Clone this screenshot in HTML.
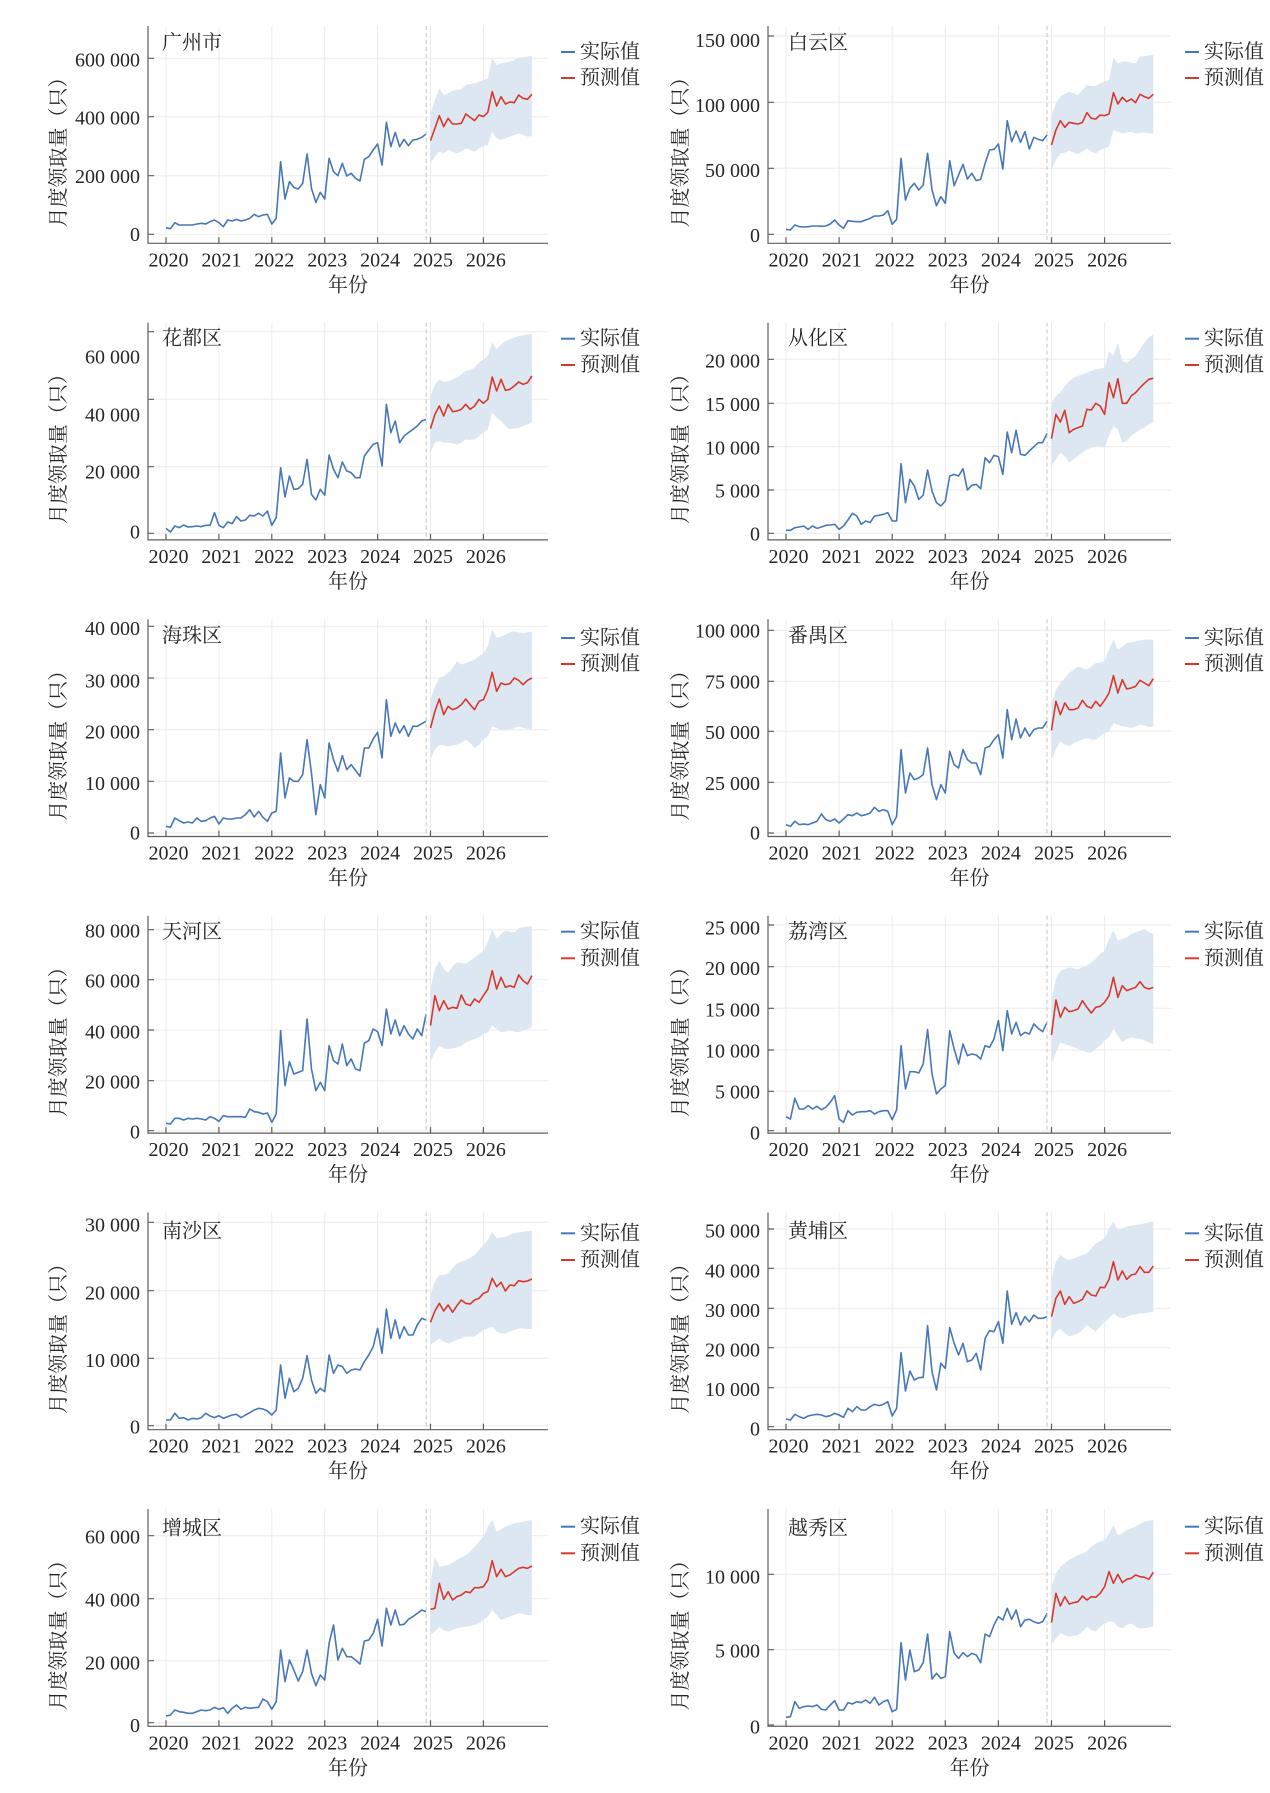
<!DOCTYPE html>
<html>
<head>
<meta charset="utf-8">
<style>
  html,body{margin:0;padding:0;background:#fff;}
  svg{display:block;}
  .ax{stroke:#5e5e5e;stroke-width:1.2;fill:none;}
  .gr{stroke:#ebebeb;stroke-width:1;fill:none;}
  .dash{stroke:#c4c4c4;stroke-width:1;stroke-dasharray:4 3;fill:none;}
  .act{fill:none;stroke:#4677b8;stroke-width:1.6;stroke-linejoin:round;}
  .fc{fill:none;stroke:#d8382c;stroke-width:1.6;stroke-linejoin:round;}
  .band{fill:#dde7f2;stroke:none;}
  text{font-family:"Liberation Serif","Noto Serif CJK SC",serif;font-size:20px;fill:#262626;dominant-baseline:central;}
  .yl{text-anchor:end;}
  .xl{text-anchor:middle;}
  .lg1{stroke:#4677b8;stroke-width:2;}
  .lg2{stroke:#d8382c;stroke-width:2;}
</style>
</head>
<body>
<svg width="1270" height="1793" viewBox="0 0 1270 1793" xmlns="http://www.w3.org/2000/svg">

<!-- ============ GRID LAYER (vertical, per row) ============ -->
<g id="rowgrid">
  <g class="gr">
    <line x1="166" y1="26" x2="166" y2="243.3"/><line x1="218.9" y1="26" x2="218.9" y2="243.3"/><line x1="271.8" y1="26" x2="271.8" y2="243.3"/><line x1="324.7" y1="26" x2="324.7" y2="243.3"/><line x1="377.6" y1="26" x2="377.6" y2="243.3"/><line x1="430.5" y1="26" x2="430.5" y2="243.3"/><line x1="483.4" y1="26" x2="483.4" y2="243.3"/>
    <line x1="786" y1="26" x2="786" y2="243.3"/><line x1="839.1" y1="26" x2="839.1" y2="243.3"/><line x1="892.2" y1="26" x2="892.2" y2="243.3"/><line x1="945.3" y1="26" x2="945.3" y2="243.3"/><line x1="998.4" y1="26" x2="998.4" y2="243.3"/><line x1="1051.5" y1="26" x2="1051.5" y2="243.3"/><line x1="1104.6" y1="26" x2="1104.6" y2="243.3"/>
  </g>
</g>
<use href="#rowgrid" transform="translate(0,296.6)"/>
<use href="#rowgrid" transform="translate(0,593.2)"/>
<use href="#rowgrid" transform="translate(0,889.8)"/>
<use href="#rowgrid" transform="translate(0,1186.4)"/>
<use href="#rowgrid" transform="translate(0,1483)"/>

<!-- horizontal gridlines -->
<g class="gr">
  <!-- P1 -->
  <line x1="148" y1="234.3" x2="548" y2="234.3"/><line x1="148" y1="175.7" x2="548" y2="175.7"/><line x1="148" y1="116.7" x2="548" y2="116.7"/><line x1="148" y1="58.3" x2="548" y2="58.3"/>
  <!-- P2 -->
  <line x1="768" y1="234.3" x2="1171" y2="234.3"/><line x1="768" y1="168.3" x2="1171" y2="168.3"/><line x1="768" y1="102.3" x2="1171" y2="102.3"/><line x1="768" y1="36" x2="1171" y2="36"/>
  <!-- P3 -->
  <line x1="148" y1="533.3" x2="548" y2="533.3"/><line x1="148" y1="466.7" x2="548" y2="466.7"/><line x1="148" y1="399.3" x2="548" y2="399.3"/><line x1="148" y1="331.7" x2="548" y2="331.7"/>
  <!-- P4 -->
  <line x1="768" y1="533.3" x2="1171" y2="533.3"/><line x1="768" y1="490" x2="1171" y2="490"/><line x1="768" y1="446.7" x2="1171" y2="446.7"/><line x1="768" y1="403.3" x2="1171" y2="403.3"/><line x1="768" y1="359.3" x2="1171" y2="359.3"/>
  <!-- P5 -->
  <line x1="148" y1="833" x2="548" y2="833"/><line x1="148" y1="781.3" x2="548" y2="781.3"/><line x1="148" y1="729.7" x2="548" y2="729.7"/><line x1="148" y1="678" x2="548" y2="678"/><line x1="148" y1="626.3" x2="548" y2="626.3"/>
  <!-- P6 -->
  <line x1="768" y1="833" x2="1171" y2="833"/><line x1="768" y1="782.3" x2="1171" y2="782.3"/><line x1="768" y1="731.3" x2="1171" y2="731.3"/><line x1="768" y1="681.3" x2="1171" y2="681.3"/><line x1="768" y1="630.3" x2="1171" y2="630.3"/>
  <!-- P7 -->
  <line x1="148" y1="1130.7" x2="548" y2="1130.7"/><line x1="148" y1="1080.7" x2="548" y2="1080.7"/><line x1="148" y1="1030" x2="548" y2="1030"/><line x1="148" y1="979.7" x2="548" y2="979.7"/><line x1="148" y1="929.7" x2="548" y2="929.7"/>
  <!-- P8 -->
  <line x1="768" y1="1130.7" x2="1171" y2="1130.7"/><line x1="768" y1="1091.3" x2="1171" y2="1091.3"/><line x1="768" y1="1050" x2="1171" y2="1050"/><line x1="768" y1="1008.3" x2="1171" y2="1008.3"/><line x1="768" y1="966.7" x2="1171" y2="966.7"/><line x1="768" y1="925" x2="1171" y2="925"/>
  <!-- P9 -->
  <line x1="148" y1="1425.7" x2="548" y2="1425.7"/><line x1="148" y1="1358.3" x2="548" y2="1358.3"/><line x1="148" y1="1290.7" x2="548" y2="1290.7"/><line x1="148" y1="1222.3" x2="548" y2="1222.3"/>
  <!-- P10 -->
  <line x1="768" y1="1426.7" x2="1171" y2="1426.7"/><line x1="768" y1="1387.7" x2="1171" y2="1387.7"/><line x1="768" y1="1347.7" x2="1171" y2="1347.7"/><line x1="768" y1="1308.3" x2="1171" y2="1308.3"/><line x1="768" y1="1268.3" x2="1171" y2="1268.3"/><line x1="768" y1="1229" x2="1171" y2="1229"/>
  <!-- P11 -->
  <line x1="148" y1="1722.7" x2="548" y2="1722.7"/><line x1="148" y1="1660.7" x2="548" y2="1660.7"/><line x1="148" y1="1598.7" x2="548" y2="1598.7"/><line x1="148" y1="1535.7" x2="548" y2="1535.7"/>
  <!-- P12 -->
  <line x1="768" y1="1725" x2="1171" y2="1725"/><line x1="768" y1="1649.7" x2="1171" y2="1649.7"/><line x1="768" y1="1574.3" x2="1171" y2="1574.3"/>
</g>

<!-- ============ DATA LAYER ============ -->
<!-- P1 广州市 -->
<g transform="translate(166 0) scale(4.4083 0.33333)">
  <polygon class="band" points="60,340 61,300 62,265 63,285 64,280 65,272 66,270 67,268 68,255 69,252 70,250 71,245 72,240 73,235 74,175 75,195 76,190 77,188 78,185 79,180 80,172 81,172 82,170 83,168 83,408 82,410 81,405 80,400 79,405 78,410 77,415 76,420 75,415 74,395 73,435 72,440 71,445 70,455 69,450 68,445 67,455 66,460 65,455 64,450 63,460 62,455 61,470 60,490"/>
  <polyline class="act" vector-effect="non-scaling-stroke" points="0,683 1,686 2,668 3,675 4,675 5,675 6,675 7,672 8,670 9,672 10,665 11,660 12,668 13,680 14,660 15,663 16,658 17,663 18,660 19,655 20,643 21,650 22,645 23,643 24,672 25,655 26,485 27,597 28,545 29,562 30,567 31,550 32,462 33,565 34,607 35,577 36,597 37,475 38,515 39,527 40,490 41,528 42,520 43,535 44,543 45,478 46,470 47,450 48,432 49,495 50,367 51,440 52,397 53,440 54,418 55,437 56,420 57,418 58,412 59,402"/>
  <polyline class="fc" vector-effect="non-scaling-stroke" points="60,422 61,385 62,347 63,380 64,355 65,372 66,372 67,370 68,342 69,352 70,362 71,345 72,350 73,337 74,275 75,318 76,290 77,312 78,306 79,308 80,285 81,295 82,298 83,283"/>
</g>
<!-- P2 白云区 -->
<g transform="translate(786 0) scale(4.425 0.33333)">
  <polygon class="band" points="60,345 61,310 62,290 63,282 64,275 65,280 66,285 67,270 68,255 69,258 70,258 71,250 72,245 73,240 74,172 75,190 76,185 77,185 78,188 79,190 80,170 81,168 82,166 83,165 83,402 82,400 81,398 80,398 79,400 78,395 77,398 76,400 75,395 74,390 73,440 72,445 71,450 70,460 69,455 68,445 67,455 66,462 65,458 64,452 63,458 62,460 61,480 60,510"/>
  <polyline class="act" vector-effect="non-scaling-stroke" points="0,688 1,690 2,675 3,680 4,681 5,680 6,678 7,678 8,679 9,678 10,672 11,660 12,675 13,685 14,662 15,664 16,665 17,665 18,660 19,655 20,648 21,648 22,645 23,632 24,673 25,658 26,475 27,600 28,565 29,550 30,570 31,555 32,460 33,570 34,617 35,590 36,610 37,482 38,557 39,525 40,493 41,537 42,520 43,542 44,538 45,490 46,450 47,448 48,432 49,507 50,362 51,425 52,393 53,427 54,395 55,447 56,412 57,418 58,422 59,405"/>
  <polyline class="fc" vector-effect="non-scaling-stroke" points="60,435 61,390 62,362 63,382 64,367 65,370 66,372 67,367 68,338 69,355 70,357 71,345 72,347 73,342 74,278 75,312 76,292 77,305 78,297 79,308 80,283 81,290 82,295 83,283"/>
</g>
<!-- P3 花都区 -->
<g transform="translate(166 296) scale(4.4083 0.33333)">
  <polygon class="band" points="60,300 61,265 62,250 63,258 64,255 65,250 66,245 67,235 68,225 69,222 70,215 71,200 72,190 73,180 74,140 75,160 76,145 77,135 78,130 79,125 80,120 81,118 82,115 83,112 83,380 82,385 81,390 80,395 79,398 78,400 77,390 76,375 75,365 74,350 73,400 72,410 71,420 70,430 69,432 68,430 67,440 66,445 65,442 64,440 63,440 62,435 61,440 60,470"/>
  <polyline class="act" vector-effect="non-scaling-stroke" points="0,697 1,708 2,690 3,695 4,687 5,693 6,692 7,690 8,692 9,688 10,688 11,650 12,688 13,695 14,678 15,683 16,662 17,675 18,672 19,658 20,660 21,652 22,660 23,645 24,688 25,665 26,515 27,603 28,540 29,580 30,578 31,565 32,490 33,595 34,612 35,580 36,598 37,477 38,520 39,545 40,498 41,525 42,530 43,545 44,545 45,480 46,462 47,445 48,440 49,510 50,325 51,410 52,375 53,440 54,420 55,410 56,400 57,390 58,375 59,370"/>
  <polyline class="fc" vector-effect="non-scaling-stroke" points="60,398 61,355 62,330 63,360 64,325 65,347 66,345 67,340 68,325 69,340 70,330 71,310 72,322 73,310 74,243 75,285 76,250 77,283 78,280 79,270 80,258 81,265 82,260 83,240"/>
</g>
<!-- P4 从化区 -->
<g transform="translate(786 296) scale(4.425 0.33333)">
  <polygon class="band" points="60,320 61,300 62,290 63,270 64,255 65,245 66,240 67,235 68,230 69,225 70,220 71,218 72,215 73,165 74,180 75,140 76,195 77,200 78,190 79,180 80,160 81,140 82,125 83,115 83,380 82,385 81,395 80,400 79,410 78,420 77,435 76,440 75,400 74,390 73,420 72,455 71,450 70,450 69,455 68,460 67,470 66,480 65,490 64,500 63,480 62,470 61,490 60,510"/>
  <polyline class="act" vector-effect="non-scaling-stroke" points="0,703 1,703 2,695 3,693 4,690 5,700 6,690 7,697 8,693 9,688 10,687 11,685 12,700 13,690 14,672 15,652 16,660 17,685 18,675 19,680 20,660 21,658 22,655 23,650 24,675 25,675 26,503 27,620 28,550 29,570 30,610 31,598 32,522 33,585 34,620 35,630 36,615 37,540 38,535 39,540 40,518 41,582 42,568 43,565 44,578 45,485 46,500 47,478 48,482 49,535 50,408 51,470 52,403 53,475 54,478 55,465 56,452 57,440 58,440 59,412"/>
  <polyline class="fc" vector-effect="non-scaling-stroke" points="60,428 61,355 62,378 63,343 64,410 65,400 66,395 67,390 68,340 69,342 70,322 71,330 72,355 73,260 74,305 75,248 76,322 77,322 78,300 79,290 80,275 81,262 82,250 83,247"/>
</g>
<!-- P5 海珠区 -->
<g transform="translate(166 593) scale(4.4083 0.33333)">
  <polygon class="band" points="60,320 61,280 62,255 63,250 64,240 65,225 66,205 67,215 68,210 69,205 70,200 71,190 72,180 73,160 74,110 75,135 76,130 77,125 78,118 79,115 80,118 81,120 82,118 83,115 83,410 82,408 81,405 80,400 79,405 78,410 77,412 76,410 75,405 74,400 73,430 72,440 71,455 70,465 69,450 68,440 67,450 66,455 65,458 64,460 63,458 62,455 61,470 60,500"/>
  <polyline class="act" vector-effect="non-scaling-stroke" points="0,700 1,703 2,675 3,683 4,690 5,687 6,690 7,675 8,685 9,683 10,675 11,670 12,693 13,675 14,678 15,678 16,675 17,675 18,665 19,650 20,672 21,655 22,673 23,685 24,660 25,655 26,480 27,615 28,555 29,565 30,565 31,545 32,440 33,540 34,665 35,575 36,615 37,450 38,500 39,535 40,488 41,530 42,515 43,532 44,550 45,465 46,465 47,438 48,418 49,495 50,320 51,430 52,390 53,420 54,398 55,430 56,400 57,400 58,392 59,385"/>
  <polyline class="fc" vector-effect="non-scaling-stroke" points="60,405 61,355 62,318 63,365 64,340 65,350 66,345 67,335 68,318 69,335 70,350 71,325 72,320 73,290 74,238 75,295 76,270 77,275 78,272 79,255 80,262 81,275 82,262 83,255"/>
</g>
<!-- P6 番禺区 -->
<g transform="translate(786 593) scale(4.425 0.33333)">
  <polygon class="band" points="60,330 61,290 62,270 63,255 64,240 65,230 66,220 67,225 68,230 69,220 70,210 71,208 72,205 73,170 74,140 75,170 76,160 77,150 78,148 79,145 80,142 81,140 82,140 83,140 83,400 82,402 81,398 80,395 79,400 78,405 77,402 76,400 75,395 74,390 73,415 72,420 71,430 70,440 69,440 68,435 67,440 66,445 65,450 64,460 63,455 62,445 61,470 60,500"/>
  <polyline class="act" vector-effect="non-scaling-stroke" points="0,695 1,700 2,685 3,695 4,693 5,695 6,690 7,685 8,663 9,680 10,685 11,678 12,690 13,678 14,665 15,668 16,660 17,668 18,665 19,660 20,643 21,655 22,650 23,655 24,695 25,670 26,470 27,600 28,540 29,560 30,555 31,545 32,465 33,575 34,620 35,575 36,600 37,475 38,515 39,525 40,470 41,500 42,510 43,510 44,545 45,465 46,460 47,440 48,425 49,495 50,350 51,440 52,378 53,435 54,405 55,430 56,410 57,405 58,405 59,385"/>
  <polyline class="fc" vector-effect="non-scaling-stroke" points="60,412 61,325 62,365 63,330 64,350 65,350 66,345 67,322 68,340 69,345 70,325 71,340 72,322 73,300 74,248 75,300 76,260 77,288 78,285 79,280 80,262 81,270 82,278 83,257"/>
</g>
<!-- P7 天河区 -->
<g transform="translate(166 889) scale(4.4083 0.33333)">
  <polygon class="band" points="60,300 61,240 62,215 63,240 64,250 65,232 66,220 67,222 68,225 69,215 70,205 71,195 72,185 73,160 74,120 75,150 76,135 77,125 78,128 79,130 80,118 81,115 82,112 83,112 83,415 82,420 81,425 80,430 79,428 78,425 77,428 76,430 75,420 74,410 73,430 72,435 71,445 70,450 69,455 68,460 67,470 66,475 65,478 64,480 63,478 62,470 61,490 60,520"/>
  <polyline class="act" vector-effect="non-scaling-stroke" points="0,703 1,705 2,688 3,688 4,693 5,688 6,690 7,688 8,690 9,693 10,683 11,688 12,697 13,680 14,683 15,683 16,683 17,683 18,685 19,660 20,668 21,670 22,675 23,672 24,700 25,675 26,425 27,590 28,518 29,555 30,550 31,545 32,390 33,540 34,605 35,580 36,605 37,470 38,515 39,525 40,465 41,530 42,510 43,540 44,545 45,462 46,455 47,420 48,428 49,470 50,360 51,435 52,393 53,440 54,410 55,435 56,450 57,420 58,440 59,375"/>
  <polyline class="fc" vector-effect="non-scaling-stroke" points="60,410 61,320 62,365 63,335 64,360 65,355 66,358 67,318 68,345 69,350 70,330 71,340 72,320 73,300 74,245 75,300 76,265 77,295 78,290 79,295 80,258 81,275 82,285 83,260"/>
</g>
<!-- P8 荔湾区 -->
<g transform="translate(786 889) scale(4.425 0.33333)">
  <polygon class="band" points="60,330 61,270 62,245 63,240 64,235 65,238 66,240 67,235 68,230 69,220 70,210 71,195 72,185 73,150 74,125 75,155 76,150 77,145 78,135 79,130 80,125 81,120 82,130 83,135 83,465 82,460 81,455 80,450 79,448 78,445 77,450 76,460 75,440 74,420 73,445 72,455 71,470 70,480 69,490 68,490 67,485 66,480 65,475 64,470 63,465 62,460 61,490 60,525"/>
  <polyline class="act" vector-effect="non-scaling-stroke" points="0,683 1,690 2,628 3,660 4,660 5,650 6,660 7,652 8,662 9,655 10,640 11,620 12,690 13,700 14,665 15,678 16,670 17,668 18,668 19,665 20,675 21,668 22,665 23,665 24,692 25,662 26,470 27,600 28,548 29,548 30,552 31,525 32,422 33,555 34,615 35,600 36,590 37,425 38,480 39,525 40,465 41,500 42,495 43,498 44,510 45,470 46,475 47,450 48,395 49,485 50,365 51,435 52,400 53,440 54,430 55,435 56,405 57,418 58,428 59,400"/>
  <polyline class="fc" vector-effect="non-scaling-stroke" points="60,438 61,333 62,385 63,355 64,368 65,365 66,360 67,335 68,355 69,372 70,355 71,352 72,340 73,320 74,265 75,325 76,290 77,305 78,300 79,295 80,278 81,295 82,300 83,295"/>
</g>
<!-- P9 南沙区 -->
<g transform="translate(166 1185) scale(4.4083 0.33333)">
  <polygon class="band" points="60,330 61,290 62,270 63,270 64,265 65,250 66,235 67,230 68,225 69,218 70,210 71,195 72,180 73,165 74,140 75,160 76,158 77,155 78,150 79,145 80,142 81,140 82,138 83,137 83,432 82,432 81,430 80,430 79,435 78,440 77,445 76,445 75,440 74,425 73,430 72,435 71,445 70,455 69,455 68,455 67,460 66,465 65,470 64,475 63,470 62,460 61,470 60,480"/>
  <polyline class="act" vector-effect="non-scaling-stroke" points="0,705 1,705 2,685 3,700 4,698 5,705 6,700 7,702 8,698 9,685 10,693 11,698 12,692 13,700 14,695 15,690 16,688 17,698 18,690 19,683 20,675 21,670 22,672 23,678 24,690 25,675 26,540 27,640 28,580 29,620 30,610 31,580 32,512 33,585 34,625 35,610 36,620 37,510 38,565 39,540 40,545 41,565 42,555 43,552 44,555 45,530 46,510 47,485 48,430 49,505 50,372 51,460 52,405 53,460 54,425 55,450 56,450 57,420 58,400 59,405"/>
  <polyline class="fc" vector-effect="non-scaling-stroke" points="60,412 61,378 62,355 63,378 64,360 65,382 66,362 67,345 68,355 69,357 70,345 71,340 72,325 73,320 74,280 75,305 76,292 77,318 78,300 79,302 80,287 81,290 82,288 83,282"/>
</g>
<!-- P10 黄埔区 -->
<g transform="translate(786 1185) scale(4.425 0.33333)">
  <polygon class="band" points="60,280 61,230 62,210 63,220 64,225 65,220 66,215 67,210 68,205 69,190 70,175 71,168 72,160 73,130 74,110 75,135 76,130 77,125 78,122 79,120 80,118 81,115 82,112 83,110 83,380 82,382 81,385 80,385 79,388 78,390 77,395 76,400 75,395 74,385 73,400 72,410 71,425 70,440 69,430 68,420 67,435 66,445 65,450 64,455 63,445 62,430 61,440 60,465"/>
  <polyline class="act" vector-effect="non-scaling-stroke" points="0,702 1,705 2,688 3,695 4,700 5,693 6,690 7,688 8,690 9,695 10,692 11,685 12,690 13,697 14,670 15,680 16,665 17,675 18,675 19,665 20,658 21,662 22,658 23,650 24,693 25,670 26,503 27,618 28,558 29,585 30,578 31,577 32,422 33,560 34,615 35,535 36,550 37,428 38,475 39,510 40,475 41,530 42,525 43,505 44,555 45,460 46,437 47,440 48,410 49,475 50,318 51,418 52,383 53,420 54,395 55,410 56,390 57,400 58,400 59,395"/>
  <polyline class="fc" vector-effect="non-scaling-stroke" points="60,395 61,340 62,318 63,358 64,335 65,355 66,350 67,343 68,318 69,330 70,333 71,307 72,308 73,283 74,230 75,285 76,258 77,283 78,270 79,267 80,245 81,262 82,262 83,243"/>
</g>
<!-- P11 增城区 -->
<g transform="translate(166 1480) scale(4.4083 0.33333)">
  <polygon class="band" points="60,310 61,230 62,260 63,258 64,255 65,248 66,240 67,232 68,225 69,215 70,200 71,185 72,170 73,140 74,120 75,155 76,148 77,140 78,135 79,130 80,128 81,125 82,122 83,120 83,405 82,405 81,402 80,400 79,405 78,410 77,415 76,420 75,405 74,390 73,410 72,420 71,430 70,435 69,438 68,440 67,442 66,445 65,450 64,455 63,450 62,440 61,455 60,465"/>
  <polyline class="act" vector-effect="non-scaling-stroke" points="0,708 1,705 2,690 3,695 4,697 5,700 6,700 7,695 8,690 9,692 10,690 11,682 12,688 13,683 14,700 15,685 16,675 17,688 18,682 19,685 20,683 21,682 22,657 23,665 24,688 25,665 26,510 27,605 28,540 29,570 30,603 31,575 32,510 33,580 34,617 35,585 36,600 37,490 38,435 39,540 40,505 41,530 42,530 43,540 44,552 45,483 46,480 47,460 48,418 49,498 50,385 51,435 52,390 53,435 54,433 55,418 56,410 57,400 58,390 59,395"/>
  <polyline class="fc" vector-effect="non-scaling-stroke" points="60,388 61,385 62,310 63,358 64,335 65,360 66,350 67,345 68,335 69,338 70,323 71,323 72,320 73,300 74,242 75,290 76,268 77,290 78,285 79,275 80,265 81,262 82,265 83,258"/>
</g>
<!-- P12 越秀区 -->
<g transform="translate(786 1480) scale(4.425 0.33333)">
  <polygon class="band" points="60,320 61,280 62,260 63,250 64,240 65,232 66,225 67,220 68,215 69,200 70,190 71,185 72,180 73,160 74,135 75,165 76,160 77,150 78,145 79,140 80,132 81,125 82,122 83,120 83,440 82,442 81,445 80,445 79,440 78,430 77,435 76,445 75,440 74,425 73,425 72,430 71,440 70,455 69,450 68,440 67,455 66,465 65,468 64,470 63,465 62,460 61,475 60,495"/>
  <polyline class="act" vector-effect="non-scaling-stroke" points="0,712 1,710 2,665 3,685 4,680 5,678 6,680 7,675 8,688 9,690 10,675 11,662 12,690 13,690 14,668 15,672 16,665 17,668 18,660 19,670 20,652 21,675 22,665 23,660 24,695 25,688 26,488 27,600 28,510 29,575 30,570 31,548 32,462 33,597 34,580 35,595 36,590 37,455 38,520 39,535 40,518 41,530 42,520 43,525 44,548 45,462 46,470 47,435 48,410 49,420 50,385 51,418 52,390 53,440 54,420 55,418 56,425 57,430 58,425 59,400"/>
  <polyline class="fc" vector-effect="non-scaling-stroke" points="60,428 61,340 62,378 63,350 64,372 65,368 66,365 67,348 68,360 69,350 70,352 71,340 72,320 73,275 74,310 75,283 76,308 77,298 78,295 79,285 80,290 81,292 82,298 83,277"/>
</g>

<!-- ============ AXES / TEXT per row (common) ============ -->
<g id="rowaxes">
  <line class="dash" x1="426.2" y1="26" x2="426.2" y2="243.3"/>
  <line class="dash" x1="1047" y1="26" x2="1047" y2="243.3"/>
  <path class="ax" d="M148,26 V243.3 H548 M768,26 V243.3 H1171"/>
  <path class="ax" d="M166,243.3 v-6 M218.9,243.3 v-6 M271.8,243.3 v-6 M324.7,243.3 v-6 M377.6,243.3 v-6 M430.5,243.3 v-6 M483.4,243.3 v-6 M786,243.3 v-6 M839.1,243.3 v-6 M892.2,243.3 v-6 M945.3,243.3 v-6 M998.4,243.3 v-6 M1051.5,243.3 v-6 M1104.6,243.3 v-6"/>
  <text class="xl" x="168.5" y="260.3">2020</text><text class="xl" x="221.4" y="260.3">2021</text><text class="xl" x="274.3" y="260.3">2022</text><text class="xl" x="327.2" y="260.3">2023</text><text class="xl" x="380.1" y="260.3">2024</text><text class="xl" x="433" y="260.3">2025</text><text class="xl" x="485.9" y="260.3">2026</text>
  <text class="xl" x="788.5" y="260.3">2020</text><text class="xl" x="841.6" y="260.3">2021</text><text class="xl" x="894.7" y="260.3">2022</text><text class="xl" x="947.8" y="260.3">2023</text><text class="xl" x="1000.9" y="260.3">2024</text><text class="xl" x="1054" y="260.3">2025</text><text class="xl" x="1107.1" y="260.3">2026</text>
  <text class="xl" x="348" y="285.3">年份</text>
  <text class="xl" x="969.5" y="285.3">年份</text>
  <text class="xl" transform="translate(59,147.5) rotate(-90)">月度领取量（只）</text>
  <text class="xl" transform="translate(681,147.5) rotate(-90)">月度领取量（只）</text>
</g>
<use href="#rowaxes" transform="translate(0,296.6)"/>
<use href="#rowaxes" transform="translate(0,593.2)"/>
<use href="#rowaxes" transform="translate(0,889.8)"/>
<use href="#rowaxes" transform="translate(0,1186.4)"/>
<use href="#rowaxes" transform="translate(0,1483)"/>

<!-- y ticks -->
<path class="ax" d="
M148,234.3 h6 M148,175.7 h6 M148,116.7 h6 M148,58.3 h6
M768,234.3 h6 M768,168.3 h6 M768,102.3 h6 M768,36 h6
M148,533.3 h6 M148,466.7 h6 M148,399.3 h6 M148,331.7 h6
M768,533.3 h6 M768,490 h6 M768,446.7 h6 M768,403.3 h6 M768,359.3 h6
M148,833 h6 M148,781.3 h6 M148,729.7 h6 M148,678 h6 M148,626.3 h6
M768,833 h6 M768,782.3 h6 M768,731.3 h6 M768,681.3 h6 M768,630.3 h6
M148,1130.7 h6 M148,1080.7 h6 M148,1030 h6 M148,979.7 h6 M148,929.7 h6
M768,1130.7 h6 M768,1091.3 h6 M768,1050 h6 M768,1008.3 h6 M768,966.7 h6 M768,925 h6
M148,1425.7 h6 M148,1358.3 h6 M148,1290.7 h6 M148,1222.3 h6
M768,1426.7 h6 M768,1387.7 h6 M768,1347.7 h6 M768,1308.3 h6 M768,1268.3 h6 M768,1229 h6
M148,1722.7 h6 M148,1660.7 h6 M148,1598.7 h6 M148,1535.7 h6
M768,1725 h6 M768,1649.7 h6 M768,1574.3 h6"/>

<!-- y tick labels -->
<g class="yl">
  <!-- P1 -->
  <text class="yl" x="140" y="235">0</text><text class="yl" x="140" y="177">200 000</text><text class="yl" x="140" y="118.3">400 000</text><text class="yl" x="140" y="60.5">600 000</text>
  <!-- P2 -->
  <text class="yl" x="760" y="236">0</text><text class="yl" x="760" y="171">50 000</text><text class="yl" x="760" y="106">100 000</text><text class="yl" x="760" y="41">150 000</text>
  <!-- P3 -->
  <text class="yl" x="140" y="532.7">0</text><text class="yl" x="140" y="472.7">20 000</text><text class="yl" x="140" y="415.3">40 000</text><text class="yl" x="140" y="357.7">60 000</text>
  <!-- P4 -->
  <text class="yl" x="760" y="534.3">0</text><text class="yl" x="760" y="491.7">5 000</text><text class="yl" x="760" y="448.3">10 000</text><text class="yl" x="760" y="405">15 000</text><text class="yl" x="760" y="361.7">20 000</text>
  <!-- P5 -->
  <text class="yl" x="140" y="833.7">0</text><text class="yl" x="140" y="784">10 000</text><text class="yl" x="140" y="732.3">20 000</text><text class="yl" x="140" y="681.3">30 000</text><text class="yl" x="140" y="629">40 000</text>
  <!-- P6 -->
  <text class="yl" x="760" y="833.7">0</text><text class="yl" x="760" y="784">25 000</text><text class="yl" x="760" y="733">50 000</text><text class="yl" x="760" y="682.3">75 000</text><text class="yl" x="760" y="631.3">100 000</text>
  <!-- P7 -->
  <text class="yl" x="140" y="1132.3">0</text><text class="yl" x="140" y="1082.3">20 000</text><text class="yl" x="140" y="1032.3">40 000</text><text class="yl" x="140" y="981.7">60 000</text><text class="yl" x="140" y="931.7">80 000</text>
  <!-- P8 -->
  <text class="yl" x="760" y="1133.3">0</text><text class="yl" x="760" y="1092.3">5 000</text><text class="yl" x="760" y="1051.7">10 000</text><text class="yl" x="760" y="1010.7">15 000</text><text class="yl" x="760" y="969">20 000</text><text class="yl" x="760" y="928.3">25 000</text>
  <!-- P9 -->
  <text class="yl" x="140" y="1427.7">0</text><text class="yl" x="140" y="1361">10 000</text><text class="yl" x="140" y="1293.3">20 000</text><text class="yl" x="140" y="1225.7">30 000</text>
  <!-- P10 -->
  <text class="yl" x="760" y="1429.3">0</text><text class="yl" x="760" y="1390">10 000</text><text class="yl" x="760" y="1350.7">20 000</text><text class="yl" x="760" y="1311">30 000</text><text class="yl" x="760" y="1271.7">40 000</text><text class="yl" x="760" y="1231.7">50 000</text>
  <!-- P11 -->
  <text class="yl" x="140" y="1726">0</text><text class="yl" x="140" y="1663.3">20 000</text><text class="yl" x="140" y="1600.7">40 000</text><text class="yl" x="140" y="1537.3">60 000</text>
  <!-- P12 -->
  <text class="yl" x="760" y="1727.3">0</text><text class="yl" x="760" y="1651.7">5 000</text><text class="yl" x="760" y="1577.3">10 000</text>
</g>

<!-- titles -->
<text x="162" y="43">广州市</text>
<text x="788" y="43">白云区</text>
<text x="162" y="338.7">花都区</text>
<text x="788" y="338.7">从化区</text>
<text x="162" y="636">海珠区</text>
<text x="788" y="636">番禺区</text>
<text x="162" y="932">天河区</text>
<text x="788" y="932">荔湾区</text>
<text x="162" y="1231.7">南沙区</text>
<text x="788" y="1231.7">黄埔区</text>
<text x="162" y="1528.3">增城区</text>
<text x="788" y="1528.3">越秀区</text>

<!-- legends -->
<g>
  <line class="lg1" x1="561" y1="52" x2="575" y2="52"/><text x="580" y="52">实际值</text>
  <line class="lg2" x1="561" y1="78" x2="575" y2="78"/><text x="580" y="78">预测值</text>
  <line class="lg1" x1="1185" y1="52" x2="1199" y2="52"/><text x="1204" y="52">实际值</text>
  <line class="lg2" x1="1185" y1="78" x2="1199" y2="78"/><text x="1204" y="78">预测值</text>

  <line class="lg1" x1="561" y1="338.7" x2="575" y2="338.7"/><text x="580" y="338.7">实际值</text>
  <line class="lg2" x1="561" y1="365" x2="575" y2="365"/><text x="580" y="365">预测值</text>
  <line class="lg1" x1="1185" y1="338.7" x2="1199" y2="338.7"/><text x="1204" y="338.7">实际值</text>
  <line class="lg2" x1="1185" y1="365" x2="1199" y2="365"/><text x="1204" y="365">预测值</text>

  <line class="lg1" x1="561" y1="638" x2="575" y2="638"/><text x="580" y="638">实际值</text>
  <line class="lg2" x1="561" y1="664" x2="575" y2="664"/><text x="580" y="664">预测值</text>
  <line class="lg1" x1="1185" y1="638" x2="1199" y2="638"/><text x="1204" y="638">实际值</text>
  <line class="lg2" x1="1185" y1="664" x2="1199" y2="664"/><text x="1204" y="664">预测值</text>

  <line class="lg1" x1="561" y1="931.7" x2="575" y2="931.7"/><text x="580" y="931.7">实际值</text>
  <line class="lg2" x1="561" y1="958.3" x2="575" y2="958.3"/><text x="580" y="958.3">预测值</text>
  <line class="lg1" x1="1185" y1="931.7" x2="1199" y2="931.7"/><text x="1204" y="931.7">实际值</text>
  <line class="lg2" x1="1185" y1="958.3" x2="1199" y2="958.3"/><text x="1204" y="958.3">预测值</text>

  <line class="lg1" x1="561" y1="1233.3" x2="575" y2="1233.3"/><text x="580" y="1233.3">实际值</text>
  <line class="lg2" x1="561" y1="1260" x2="575" y2="1260"/><text x="580" y="1260">预测值</text>
  <line class="lg1" x1="1185" y1="1233.3" x2="1199" y2="1233.3"/><text x="1204" y="1233.3">实际值</text>
  <line class="lg2" x1="1185" y1="1260" x2="1199" y2="1260"/><text x="1204" y="1260">预测值</text>

  <line class="lg1" x1="561" y1="1526.7" x2="575" y2="1526.7"/><text x="580" y="1526.7">实际值</text>
  <line class="lg2" x1="561" y1="1553.3" x2="575" y2="1553.3"/><text x="580" y="1553.3">预测值</text>
  <line class="lg1" x1="1185" y1="1526.7" x2="1199" y2="1526.7"/><text x="1204" y="1526.7">实际值</text>
  <line class="lg2" x1="1185" y1="1553.3" x2="1199" y2="1553.3"/><text x="1204" y="1553.3">预测值</text>
</g>

</svg>
</body>
</html>
